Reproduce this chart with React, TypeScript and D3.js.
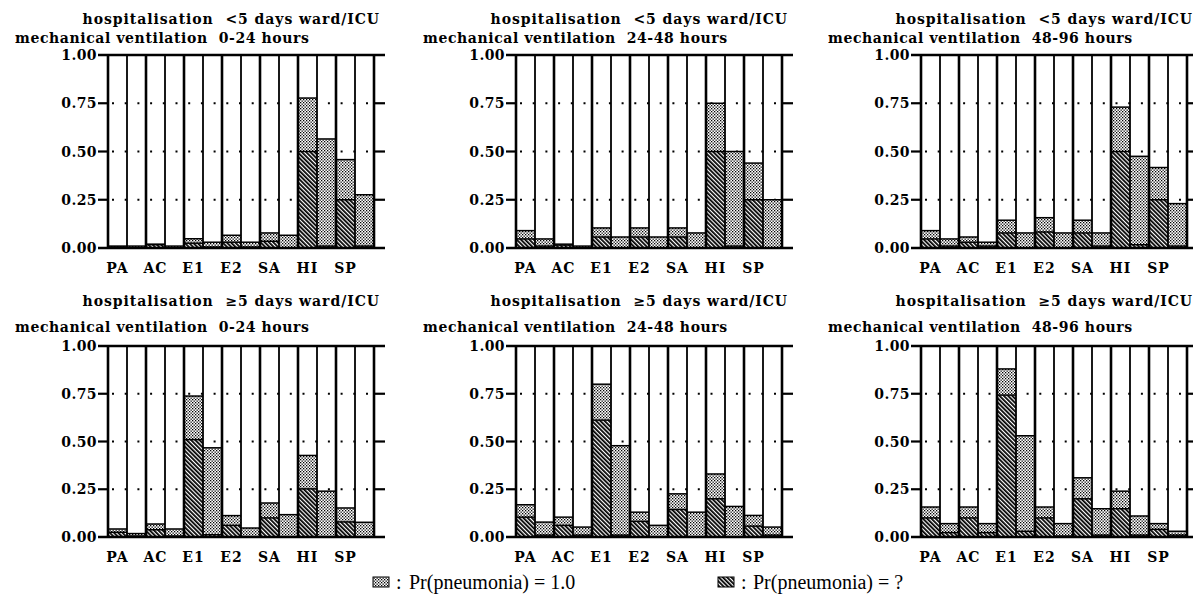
import React from 'react';
import * as d3 from 'd3';

const categories = ['PA', 'AC', 'E1', 'E2', 'SA', 'HI', 'SP'];
const hospitalisation = ['<5', '\u22655'];
const ventilation = ['0-24', '24-48', '48-96'];
const yTicks = [0, 0.25, 0.5, 0.75, 1];

// Panel 1: <5 days, 0-24 h
const p1FirstDark = [0.005, 0.017, 0.025, 0.03, 0.035, 0.5, 0.25];
const p1FirstTotal = [0.01, 0.02, 0.048, 0.066, 0.078, 0.777, 0.458];
const p1SecondDark = [0.0, 0.0, 0.005, 0.005, 0.0, 0.01, 0.01];
const p1SecondTotal = [0.01, 0.01, 0.03, 0.03, 0.066, 0.565, 0.276];
// Panel 2: <5 days, 24-48 h
const p2FirstDark = [0.047, 0.015, 0.057, 0.057, 0.057, 0.5, 0.25];
const p2FirstTotal = [0.09, 0.02, 0.104, 0.104, 0.104, 0.75, 0.44];
const p2SecondDark = [0.01, 0.0, 0.0, 0.0, 0.0, 0.01, 0.0];
const p2SecondTotal = [0.047, 0.01, 0.057, 0.057, 0.078, 0.5, 0.25];
// Panel 3: <5 days, 48-96 h
const p3FirstDark = [0.047, 0.03, 0.078, 0.083, 0.078, 0.5, 0.25];
const p3FirstTotal = [0.09, 0.057, 0.144, 0.157, 0.144, 0.73, 0.417];
const p3SecondDark = [0.01, 0.01, 0.0, 0.0, 0.01, 0.017, 0.01];
const p3SecondTotal = [0.047, 0.03, 0.078, 0.078, 0.078, 0.475, 0.23];
// Panel 4: >=5 days, 0-24 h
const p4FirstDark = [0.025, 0.038, 0.51, 0.061, 0.1, 0.252, 0.079];
const p4FirstTotal = [0.042, 0.068, 0.738, 0.112, 0.178, 0.427, 0.152];
const p4SecondDark = [0.005, 0.005, 0.012, 0.0, 0.0, 0.0, 0.0];
const p4SecondTotal = [0.018, 0.042, 0.467, 0.047, 0.117, 0.24, 0.077];
// Panel 5: >=5 days, 24-48 h
const p5FirstDark = [0.104, 0.061, 0.612, 0.082, 0.144, 0.2, 0.057];
const p5FirstTotal = [0.169, 0.104, 0.8, 0.13, 0.226, 0.33, 0.113];
const p5SecondDark = [0.01, 0.01, 0.01, 0.0, 0.0, 0.0, 0.01];
const p5SecondTotal = [0.078, 0.052, 0.478, 0.061, 0.13, 0.16, 0.052];
// Panel 6: >=5 days, 48-96 h
const p6FirstDark = [0.1, 0.1, 0.743, 0.1, 0.2, 0.148, 0.04];
const p6FirstTotal = [0.157, 0.157, 0.88, 0.157, 0.31, 0.24, 0.07];
const p6SecondDark = [0.023, 0.023, 0.03, 0.005, 0.01, 0.01, 0.01];
const p6SecondTotal = [0.07, 0.07, 0.53, 0.07, 0.148, 0.11, 0.03];

const panels = [
  { h: 0, v: 0, fd: p1FirstDark, ft: p1FirstTotal, sd: p1SecondDark, st: p1SecondTotal },
  { h: 0, v: 1, fd: p2FirstDark, ft: p2FirstTotal, sd: p2SecondDark, st: p2SecondTotal },
  { h: 0, v: 2, fd: p3FirstDark, ft: p3FirstTotal, sd: p3SecondDark, st: p3SecondTotal },
  { h: 1, v: 0, fd: p4FirstDark, ft: p4FirstTotal, sd: p4SecondDark, st: p4SecondTotal },
  { h: 1, v: 1, fd: p5FirstDark, ft: p5FirstTotal, sd: p5SecondDark, st: p5SecondTotal },
  { h: 1, v: 2, fd: p6FirstDark, ft: p6FirstTotal, sd: p6SecondDark, st: p6SecondTotal },
];

const W = 1193;
const H = 599;
const colLefts = [108, 516, 921];
const plotW = 266;
const rowTops = [55, 346];
const rowBottoms = [248, 537];
const boldFont = "'DejaVu Serif', serif";

function Panel({ p }: { p: typeof panels[number] }) {
  const left = colLefts[p.v];
  const right = left + plotW;
  const top = rowTops[p.h];
  const bottom = rowBottoms[p.h];
  const barIds = d3.range(categories.length * 2);
  const x = d3.scaleBand<number>().domain(barIds).range([left, right]).padding(0);
  const y = d3.scaleLinear().domain([0, 1]).range([bottom, top]);
  const bw = x.bandwidth();

  const bars: { id: number; dark: number; total: number }[] = [];
  categories.forEach((c, i) => {
    bars.push({ id: i * 2, dark: p.fd[i], total: p.ft[i] });
    bars.push({ id: i * 2 + 1, dark: p.sd[i], total: p.st[i] });
  });

  const line1Off = p.h === 0 ? 31 : 40;
  const line2Off = p.h === 0 ? 12 : 14;
  const titleStyle = { whiteSpace: 'pre' as const };

  return (
    <g>
      <text x={right + 6} y={top - line1Off} textAnchor="end" fontFamily={boldFont} fontWeight="bold" fontSize={14} letterSpacing={0.95} style={titleStyle}>
        {`hospitalisation  ${hospitalisation[p.h]} days ward/ICU`}
      </text>
      <text x={left - 93} y={top - line2Off} textAnchor="start" fontFamily={boldFont} fontWeight="bold" fontSize={14} letterSpacing={0.6} style={titleStyle}>
        {`mechanical ventilation  ${ventilation[p.v]} hours`}
      </text>
      {/* gridlines */}
      {yTicks.filter((t) => t > 0 && t < 1).map((t) => (
        <line key={'g' + t} x1={left + 4} x2={right} y1={y(t)} y2={y(t)} stroke="#000" strokeWidth={2} strokeDasharray="2 10.7" />
      ))}
      {/* bars */}
      {bars.map((b) => {
        const x0 = x(b.id)!;
        return (
          <g key={b.id}>
            {b.dark > 0 && <rect x={x0} y={y(b.dark)} width={bw} height={y(0) - y(b.dark)} fill="url(#darkPat)" />}
            {b.total > b.dark && <rect x={x0} y={y(b.total)} width={bw} height={y(b.dark) - y(b.total)} fill="url(#lightPat)" />}
            {b.dark > 0.004 && <line x1={x0} x2={x0 + bw} y1={y(b.dark)} y2={y(b.dark)} stroke="#000" strokeWidth={1.5} />}
            <line x1={x0} x2={x0 + bw} y1={y(b.total)} y2={y(b.total)} stroke="#000" strokeWidth={1.5} />
          </g>
        );
      })}
      {/* vertical separators */}
      {d3.range(categories.length * 2 + 1).map((k) => {
        const xx = k < barIds.length ? x(k)! : right;
        return (
          <line key={'v' + k} x1={xx} x2={xx} y1={top} y2={bottom} stroke="#000" strokeWidth={k % 2 === 0 ? 2.6 : 1.8} />
        );
      })}
      {/* axis ticks */}
      {yTicks.map((t) => (
        <g key={'t' + t}>
          {t === 0 || t === 1 ? (
            <line x1={left - 10} x2={right + 11} y1={y(t)} y2={y(t)} stroke="#000" strokeWidth={2.6} />
          ) : (
            <>
              <line x1={left - 10} x2={left} y1={y(t)} y2={y(t)} stroke="#000" strokeWidth={2.2} />
              <line x1={right} x2={right + 11} y1={y(t)} y2={y(t)} stroke="#000" strokeWidth={2.2} />
            </>
          )}
          <text x={left - 11} y={y(t)} dy="0.36em" textAnchor="end" fontFamily={boldFont} fontWeight="bold" fontSize={14} letterSpacing={0.4}>
            {d3.format('.2f')(t)}
          </text>
        </g>
      ))}
      {/* category labels, centred under the first bar of each pair */}
      {categories.map((c, i) => (
        <text key={c} x={x(i * 2)! + bw / 2} y={bottom + 25} textAnchor="middle" fontFamily={boldFont} fontWeight="bold" fontSize={14} letterSpacing={1}>
          {c}
        </text>
      ))}
    </g>
  );
}

export default function App() {
  return (
    <svg width={W} height={H} style={{ position: 'absolute', left: 0, top: 0, background: '#fff' }}>
      <defs>
        <pattern id="darkPat" patternUnits="userSpaceOnUse" width={3} height={3} patternTransform="rotate(-45)">
          <rect width={3} height={3} fill="#fff" />
          <rect width={1.8} height={3} fill="#000" />
        </pattern>
        <pattern id="lightPat" patternUnits="userSpaceOnUse" width={3} height={3}>
          <rect width={3} height={3} fill="#fff" />
          <rect x={0} y={0} width={1.3} height={1.3} fill="#000" />
          <rect x={1.5} y={1.5} width={1.3} height={1.3} fill="#000" />
        </pattern>
      </defs>
      <rect width={W} height={H} fill="#fff" />
      {panels.map((p, i) => (
        <Panel key={i} p={p} />
      ))}
      {/* legend */}
      <g fontFamily="'Liberation Serif', serif" fontSize={20}>
        <rect x={373} y={577} width={16} height={10} fill="url(#lightPat)" stroke="#000" strokeWidth={1} />
        <text x={396} y={589}>:</text>
        <text x={409} y={589}>Pr(pneumonia) = 1.0</text>
        <rect x={718} y={577} width={16} height={10} fill="url(#darkPat)" stroke="#000" strokeWidth={1} />
        <text x={741} y={589}>:</text>
        <text x={753} y={589}>Pr(pneumonia) = ?</text>
      </g>
    </svg>
  );
}
